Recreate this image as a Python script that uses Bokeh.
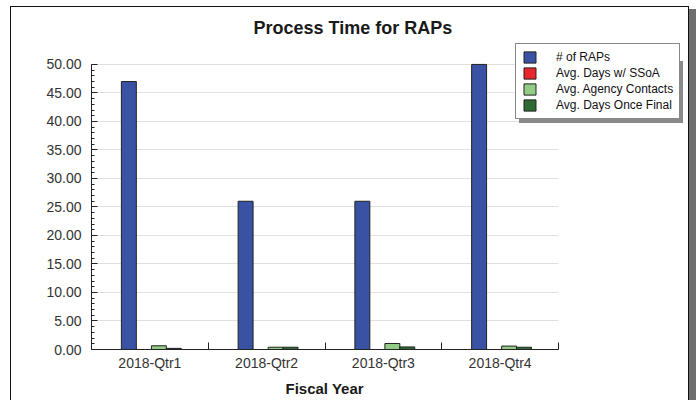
from bokeh.plotting import figure
from bokeh.models import (Range1d, FixedTicker, SingleIntervalTicker, NumeralTickFormatter,
                          Legend, LegendItem, ColumnDataSource, BoxAnnotation, Title)
from bokeh.embed import file_html
from bokeh.resources import INLINE

quarters = ["2018-Qtr1", "2018-Qtr2", "2018-Qtr3", "2018-Qtr4"]
series_names = ["# of RAPs", "Avg. Days w/ SSoA", "Avg. Agency Contacts", "Avg. Days Once Final"]
num_raps = [47, 26, 26, 50]
avg_days_ssoa = [0, 0, 0, 0]
avg_agency_contacts = [0.65, 0.4, 1.05, 0.6]
avg_days_once_final = [0.2, 0.4, 0.45, 0.4]
series_values = [num_raps, avg_days_ssoa, avg_agency_contacts, avg_days_once_final]
series_colors = ["#3a52a3", "#e8262b", "#92cc86", "#2f6a35"]
offsets = [-0.18, -0.052, 0.077, 0.205]
bar_width = 0.128
y_max = 50

FONT = "Liberation Sans"

centers = [i + 0.5 for i in range(len(quarters))]
boundaries = [i + 1 for i in range(len(quarters))]

# layout (pixels): the drawing frame is extended to the right and top so that the
# legend (which overlaps the frame edge) is not clipped; axes are bounded to the data area
W, H = 677, 393
LEFT, RIGHT, TOP, BOTTOM = 80, 5, 35, 50
AREA_W, AREA_H = 467, 286           # pixel size of the real data area
FRAME_W = W - LEFT - RIGHT
FRAME_H = H - TOP - BOTTOM
x_end = len(quarters) * FRAME_W / AREA_W
y_end = y_max * FRAME_H / AREA_H

p = figure(width=W, height=H, x_range=Range1d(0, x_end), y_range=Range1d(0, y_end),
           output_backend="svg", toolbar_location=None,
           min_border_left=LEFT, min_border_right=RIGHT, min_border_top=TOP,
           min_border_bottom=BOTTOM)
p.styles = {"margin-left": "11px", "margin-top": "7px",
            "box-shadow": "0 0 0 1px #111, 8px 3px 0 1px #6e6e6e"}

p.title.text = "Process Time for RAPs"
p.title.align = "left"
p.title.offset = 162
p.title.text_font = FONT
p.title.text_font_size = "18px"
p.title.text_color = "#1a1a1a"
p.title.standoff = 10

p.outline_line_color = None
p.xgrid.grid_line_color = None
p.ygrid.grid_line_color = "#e0e0e0"
p.ygrid.ticker = SingleIntervalTicker(interval=5, num_minor_ticks=5)

# hide grid lines beyond the data area
p.add_layout(BoxAnnotation(left=len(quarters), right=x_end, bottom=0, top=y_end,
                           fill_color="white", fill_alpha=1, line_alpha=0, level="underlay"))

shadow_items = []
items = []
for name, vals, col, off in zip(series_names, series_values, series_colors, offsets):
    src = ColumnDataSource(dict(x=[c + off for c in centers], top=vals))
    r = p.vbar(x="x", top="top", width=bar_width, source=src, fill_color=col,
               line_color="#222222", line_width=1)
    items.append(LegendItem(label=name, renderers=[r]))
    rs = p.vbar(x=[], top=[], width=bar_width, fill_alpha=0, line_alpha=0)
    shadow_items.append(LegendItem(label=" ", renderers=[rs]))

LEG_X, LEG_Y = 424, 230


def style_legend(lg, standoff):
    lg.label_text_font = FONT
    lg.label_text_font_size = "12px"
    lg.glyph_width = 15
    lg.glyph_height = 14
    lg.label_height = 11
    lg.spacing = 2
    lg.padding = 6
    lg.margin = 0
    lg.label_standoff = standoff


legend = Legend(items=items, location=(LEG_X, LEG_Y))
style_legend(legend, 19)
legend.border_line_color = "#111111"
legend.border_line_width = 1
legend.background_fill_alpha = 1
legend.label_text_color = "#111111"

# drop shadow: same box size, grey, offset down-right
shadow = Legend(items=shadow_items, location=(LEG_X + 4, LEG_Y - 4))
style_legend(shadow, 19 + 115 - 3)
shadow.border_line_color = None
shadow.background_fill_color = "#8a8a8a"
shadow.background_fill_alpha = 1
shadow.label_text_alpha = 0
p.add_layout(shadow, "center")
p.add_layout(legend, "center")

xa = p.xaxis[0]
xa.bounds = (0, len(quarters))
xa.ticker = FixedTicker(ticks=centers, minor_ticks=boundaries)
xa.major_label_overrides = {c: q for c, q in zip(centers, quarters)}
xa.major_tick_line_color = None
xa.major_tick_in = 0
xa.major_tick_out = 0
xa.minor_tick_in = 7
xa.minor_tick_out = 0
xa.minor_tick_line_color = "#222222"
xa.axis_line_color = "#222222"
xa.major_label_text_font = FONT
xa.major_label_text_font_size = "14px"
xa.major_label_text_color = "#333333"
xa.major_label_standoff = 5

# x-axis title, centred under the data area
p.add_layout(Title(text="Fiscal Year", align="left", offset=194, standoff=8,
                   text_font=FONT, text_font_style="bold", text_font_size="15px",
                   text_color="#1a1a1a"), "below")

ya = p.yaxis[0]
ya.bounds = (0, y_max)
ya.ticker = SingleIntervalTicker(interval=5, num_minor_ticks=5)
ya.formatter = NumeralTickFormatter(format="0.00")
ya.major_tick_in = 6
ya.major_tick_out = 0
ya.minor_tick_in = 3
ya.minor_tick_out = 0
ya.major_tick_line_color = "#222222"
ya.minor_tick_line_color = "#222222"
ya.axis_line_color = "#222222"
ya.major_label_text_font = FONT
ya.major_label_text_font_size = "14px"
ya.major_label_text_color = "#333333"
ya.major_label_standoff = 10

open("out.html", "w").write(file_html(p, INLINE))
